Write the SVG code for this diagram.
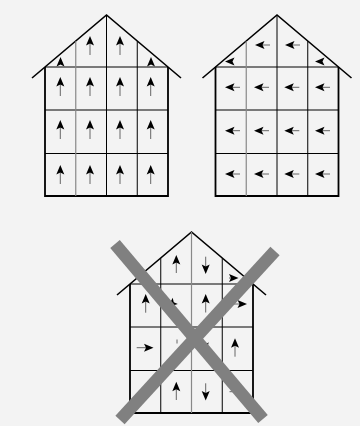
<svg xmlns="http://www.w3.org/2000/svg" xmlns:xlink="http://www.w3.org/1999/xlink" width="360" height="426" viewBox="0 0 360 426">
<style>
.bg{fill:#f3f3f3}
.roof{fill:none;stroke:#000;stroke-width:1.6;stroke-linejoin:miter}
.wall{fill:none;stroke:#000;stroke-width:1.8}
.grid{fill:none;stroke:#000;stroke-width:1}
.gridg{fill:none;stroke:#888;stroke-width:1.2}
.sh{stroke:#666;stroke-width:1;fill:none}
.hd{fill:#000}
.x{stroke:#808080;stroke-width:12.5;fill:none;stroke-linecap:butt}
</style>
<defs>
<path id="h" class="hd" d="M0,0 L4,9.5 L0,7.5 L-4,9.5 Z"/>
<g id="frame">
<polyline class="roof" points="32,78 106.5,15 181,78"/>
<path class="grid" d="M45,110 H168 M45,153.5 H168 M45,67 H168"/>
<path class="wall" d="M45,67 V196 H168 V67"/>
</g>
</defs>
<rect class="bg" x="0" y="0" width="360" height="426"/>

<g id="house-1">
<use xlink:href="#frame"/>
<path class="gridg" d="M75.75,41.2 V196"/>
<path class="grid" d="M106.5,15 V196 M137.25,41.2 V196"/>
<g id="arrows-1">
<line class="sh" x1="90" y1="42" x2="90" y2="55"/><use xlink:href="#h" x="90" y="36"/>
<line class="sh" x1="120" y1="42" x2="120" y2="55"/><use xlink:href="#h" x="120" y="36"/>
<use xlink:href="#h" x="60.5" y="57"/>
<use xlink:href="#h" x="151" y="57"/>
<line class="sh" x1="60.3" y1="83" x2="60.3" y2="96"/><use xlink:href="#h" x="60.3" y="77"/>
<line class="sh" x1="90" y1="83" x2="90" y2="96"/><use xlink:href="#h" x="90" y="77"/>
<line class="sh" x1="120" y1="83" x2="120" y2="96"/><use xlink:href="#h" x="120" y="77"/>
<line class="sh" x1="150.7" y1="83" x2="150.7" y2="96"/><use xlink:href="#h" x="150.7" y="77"/>
<line class="sh" x1="60.3" y1="126" x2="60.3" y2="139"/><use xlink:href="#h" x="60.3" y="120"/>
<line class="sh" x1="90" y1="126" x2="90" y2="139"/><use xlink:href="#h" x="90" y="120"/>
<line class="sh" x1="120" y1="126" x2="120" y2="139"/><use xlink:href="#h" x="120" y="120"/>
<line class="sh" x1="150.7" y1="126" x2="150.7" y2="139"/><use xlink:href="#h" x="150.7" y="120"/>
<line class="sh" x1="60.3" y1="171" x2="60.3" y2="184"/><use xlink:href="#h" x="60.3" y="165"/>
<line class="sh" x1="90" y1="171" x2="90" y2="184"/><use xlink:href="#h" x="90" y="165"/>
<line class="sh" x1="120" y1="171" x2="120" y2="184"/><use xlink:href="#h" x="120" y="165"/>
<line class="sh" x1="150.7" y1="171" x2="150.7" y2="184"/><use xlink:href="#h" x="150.7" y="165"/>
</g>
</g>

<g id="house-2">
<use xlink:href="#frame" transform="translate(170.5,0)"/>
<path class="gridg" d="M246.25,41.2 V196"/>
<path class="grid" d="M277,15 V196 M307.75,41.2 V196"/>
<g id="arrows-2">
<line class="sh" x1="261" y1="45" x2="270" y2="45"/><use xlink:href="#h" transform="translate(255,45) rotate(-90)"/>
<line class="sh" x1="291" y1="45" x2="300" y2="45"/><use xlink:href="#h" transform="translate(285,45) rotate(-90)"/>
<use xlink:href="#h" transform="translate(225,61.5) rotate(-90)"/>
<use xlink:href="#h" transform="translate(315,61.5) rotate(-90)"/>
<line class="sh" x1="231" y1="87.3" x2="240" y2="87.3"/><use xlink:href="#h" transform="translate(225,87.3) rotate(-90)"/>
<line class="sh" x1="260" y1="87.3" x2="269" y2="87.3"/><use xlink:href="#h" transform="translate(254,87.3) rotate(-90)"/>
<line class="sh" x1="290.3" y1="87.3" x2="299.3" y2="87.3"/><use xlink:href="#h" transform="translate(284.3,87.3) rotate(-90)"/>
<line class="sh" x1="321" y1="87.3" x2="330" y2="87.3"/><use xlink:href="#h" transform="translate(315,87.3) rotate(-90)"/>
<line class="sh" x1="231" y1="130.7" x2="240" y2="130.7"/><use xlink:href="#h" transform="translate(225,130.7) rotate(-90)"/>
<line class="sh" x1="260" y1="130.7" x2="269" y2="130.7"/><use xlink:href="#h" transform="translate(254,130.7) rotate(-90)"/>
<line class="sh" x1="290.3" y1="130.7" x2="299.3" y2="130.7"/><use xlink:href="#h" transform="translate(284.3,130.7) rotate(-90)"/>
<line class="sh" x1="321" y1="130.7" x2="330" y2="130.7"/><use xlink:href="#h" transform="translate(315,130.7) rotate(-90)"/>
<line class="sh" x1="231" y1="174" x2="240" y2="174"/><use xlink:href="#h" transform="translate(225,174) rotate(-90)"/>
<line class="sh" x1="260" y1="174" x2="269" y2="174"/><use xlink:href="#h" transform="translate(254,174) rotate(-90)"/>
<line class="sh" x1="290.3" y1="174" x2="299.3" y2="174"/><use xlink:href="#h" transform="translate(284.3,174) rotate(-90)"/>
<line class="sh" x1="321" y1="174" x2="330" y2="174"/><use xlink:href="#h" transform="translate(315,174) rotate(-90)"/>
</g>
</g>

<g id="house-3">
<use xlink:href="#frame" transform="translate(85,217)"/>
<path class="grid" d="M160.75,258.2 V413 M222.25,258.2 V413"/>
<path class="gridg" d="M191.5,232 V413"/>
<g id="arrows-3">
<line class="sh" x1="176.3" y1="261" x2="176.3" y2="273"/><use xlink:href="#h" x="176.3" y="255"/>
<line class="sh" x1="205.7" y1="256.7" x2="205.7" y2="268"/><use xlink:href="#h" transform="translate(205.7,274) rotate(180)"/>
<use xlink:href="#h" x="145" y="275"/>
<line class="sh" x1="229" y1="278" x2="233" y2="278"/><use xlink:href="#h" transform="translate(238.5,278) rotate(90)"/>
<line class="sh" x1="145.7" y1="300" x2="145.7" y2="312.7"/><use xlink:href="#h" x="145.7" y="294"/>
<use xlink:href="#h" transform="translate(168,307) rotate(-130)"/>
<line class="sh" x1="205.7" y1="300" x2="205.7" y2="312.5"/><use xlink:href="#h" x="205.7" y="294"/>
<line class="sh" x1="227" y1="304" x2="241" y2="304"/><use xlink:href="#h" transform="translate(247,304) rotate(90)"/>
<line class="sh" x1="136.7" y1="347.7" x2="147.5" y2="347.7"/><use xlink:href="#h" transform="translate(153.5,347.7) rotate(90)"/>
<line class="sh" x1="177" y1="339.5" x2="177" y2="343.5"/>
<use xlink:href="#h" transform="translate(200.5,348.5) rotate(-105)"/>
<line class="sh" x1="235" y1="344.3" x2="235" y2="356.7"/><use xlink:href="#h" x="235" y="338.3"/>
<line class="sh" x1="176.3" y1="387.7" x2="176.3" y2="400"/><use xlink:href="#h" x="176.3" y="381.7"/>
<line class="sh" x1="205.7" y1="383.3" x2="205.7" y2="394.5"/><use xlink:href="#h" transform="translate(205.7,400.5) rotate(180)"/>
<line class="sh" x1="229.5" y1="391.7" x2="234" y2="391.7"/>
</g>
<g id="cross">
<line class="x" x1="115" y1="244" x2="263" y2="419"/>
<line class="x" x1="275" y1="251" x2="120" y2="420"/>
</g>
</g>
</svg>
